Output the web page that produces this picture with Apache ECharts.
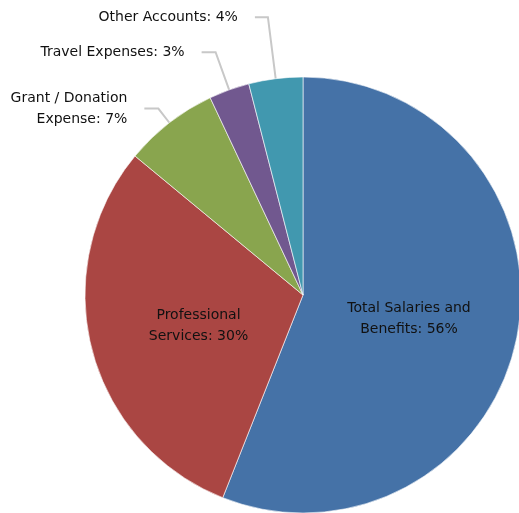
<!DOCTYPE html>
<html>
<head>
<meta charset="utf-8">
<script src="https://cdn.jsdelivr.net/npm/echarts@6/dist/echarts.min.js"></script>
<style>
  html, body { margin: 0; padding: 0; background: #fff; }
  #chart { width: 519px; height: 513px; }
</style>
</head>
<body>
<div id="chart"></div>
<script>
// Expense breakdown, clockwise from 12 o'clock
const categories = [
  'Total Salaries and\nBenefits',
  'Professional\nServices',
  'Grant / Donation\nExpense',
  'Travel Expenses',
  'Other Accounts'
];
const shares = [56, 30, 7, 3, 4];
const colors = ['#4572A7', '#AA4643', '#89A54E', '#71588F', '#4198AF'];
// Small slices get their label outside with a leader line
const outsideLine = [null, null, [18, 14], [40, 14], [62, 13]];
// Nudge for the labels drawn inside the big slices
const insideOffset = [[-4, 3], [4, 3], null, null, null];

const FONT = '"DejaVu Sans", Verdana, sans-serif';

const data = categories.map((name, i) => {
  const item = {
    name: name,
    value: shares[i],
    itemStyle: { color: colors[i] }
  };
  if (outsideLine[i]) {
    item.label = { position: 'outside', distanceToLabelLine: 17, align: 'right' };
    item.labelLine = { show: true, length: outsideLine[i][0], length2: outsideLine[i][1] };
  } else {
    item.label = { position: 'inside', offset: insideOffset[i] };
    item.labelLine = { show: false };
  }
  return item;
});

const chart = echarts.init(document.getElementById('chart'), null, { renderer: 'canvas' });
chart.setOption({
  animation: false,
  series: [{
    type: 'pie',
    center: [303, 295],
    radius: 218,
    startAngle: 90,
    clockwise: true,
    avoidLabelOverlap: false,
    data: data,
    itemStyle: { borderColor: '#ffffff', borderWidth: 0.6 },
    label: {
      formatter: '{b}: {c}%',
      color: '#111111',
      fontFamily: FONT,
      fontSize: 14,
      lineHeight: 21
    },
    labelLine: {
      lineStyle: { color: '#c8c8c8', width: 2 }
    },
    emphasis: { disabled: true }
  }]
});
</script>
</body>
</html>
